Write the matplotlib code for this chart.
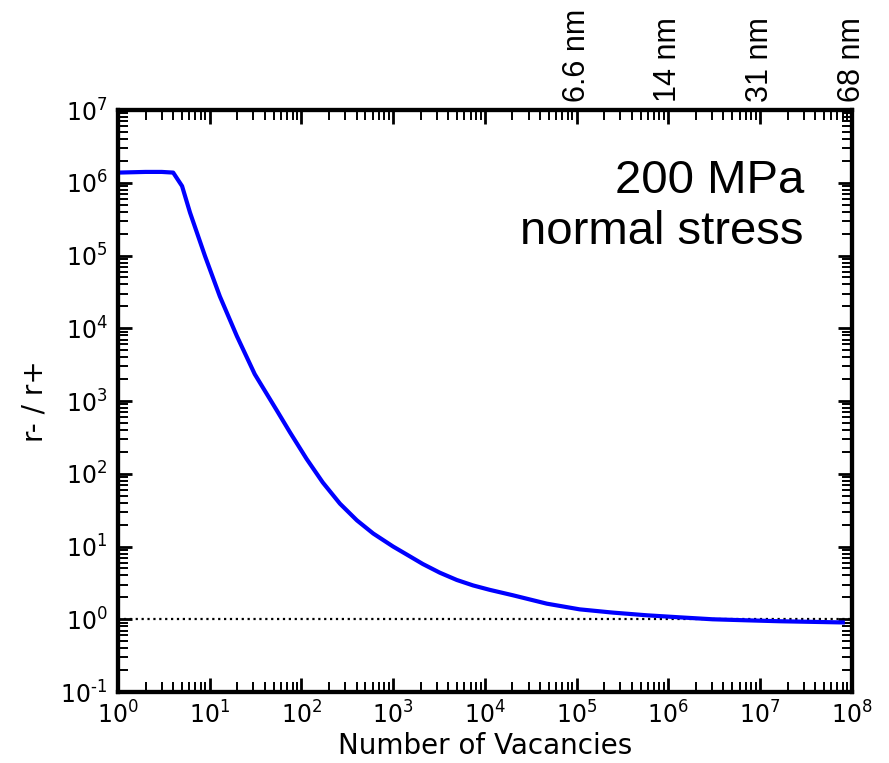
import matplotlib
matplotlib.use("Agg")
import matplotlib.pyplot as plt
from matplotlib.ticker import FixedLocator, FixedFormatter

# Data (number of vacancies vs ratio r-/r+)
vacancies = [1, 2, 3, 4, 5, 6.1, 8.9, 12.9, 19.8, 31, 54, 75, 114, 171, 263,
             403, 607, 1000, 1400, 2110, 3230, 4950, 7450, 11300, 20200,
             47400, 1.08e5, 2.48e5, 5.83e5, 1.33e6, 3.05e6, 7.16e6, 1.64e7,
             8e7]
ratio = [1.38e6, 1.41e6, 1.41e6, 1.38e6, 9.0e5, 3.9e5, 9.8e4, 2.75e4, 7.8e3,
         2.34e3, 741, 372, 160, 76, 38.9, 22.9, 15.1, 10.0, 7.8, 5.75, 4.37,
         3.47, 2.92, 2.54, 2.14, 1.64, 1.37, 1.236, 1.135, 1.064, 1.0, 0.968,
         0.94, 0.905]

reference_level = 1.0

y_tick_positions = [1e-1, 1e0, 1e1, 1e2, 1e3, 1e4, 1e5, 1e6, 1e7]
y_tick_labels = ["$10^{\u20101}$", "$10^{0}$", "$10^{1}$", "$10^{2}$",
                 "$10^{3}$", "$10^{4}$", "$10^{5}$", "$10^{6}$", "$10^{7}$"]

top_tick_positions = [1, 1e1, 1e2, 1e3, 1e4, 1e5, 1e6, 1e7, 1e8]
top_tick_labels = ["", "", "", "", "", "6.6 nm", "14 nm", "31 nm", "68 nm"]

fig = plt.figure(figsize=(8.89, 7.63), dpi=100)
ax = fig.add_axes([0.1327, 0.093, 0.8253, 0.7628])

ax.plot(vacancies, ratio, color="#0000ff", lw=3, zorder=3)
ax.axhline(reference_level, color="black", ls=":", lw=1.6, zorder=2)

ax.set_xscale("log")
ax.set_yscale("log")
ax.set_xlim(1, 1e8)
ax.set_ylim(0.1, 1e7)
ax.yaxis.set_major_locator(FixedLocator(y_tick_positions))
ax.yaxis.set_major_formatter(FixedFormatter(y_tick_labels))

ax.set_xlabel("Number of Vacancies", fontsize=20)
ax.set_ylabel("r- / r+", fontsize=20)
ax.xaxis.set_label_coords(0.5, -0.068)
ax.yaxis.set_label_coords(-0.095, 0.5)

for s in ax.spines.values():
    s.set_linewidth(3)

ax.tick_params(which="both", direction="in", right=True, top=False,
               labelsize=17)
ax.tick_params(which="major", length=10, width=2)
ax.tick_params(which="minor", length=7.5, width=1.4)
ax.tick_params(axis="x", which="major", pad=6.5)
ax.tick_params(axis="y", which="major", pad=7.5)

ax2 = ax.twiny()
ax2.set_xscale("log")
ax2.set_xlim(ax.get_xlim())
ax2.set_xticks(top_tick_positions)
ax2.set_xticklabels(top_tick_labels, rotation=90, fontsize=22,
                    family="Liberation Sans")
ax2.tick_params(which="both", direction="in")
ax2.tick_params(which="major", length=10, width=2, pad=6)
ax2.tick_params(which="minor", length=7.5, width=1.4)
for s in ax2.spines.values():
    s.set_linewidth(3)

ax.text(0.935, 0.915, "200 MPa\nnormal stress", transform=ax.transAxes,
        ha="right", va="top", fontsize=34, family="Liberation Sans",
        linespacing=1.2)

fig.savefig("out.png", dpi=100)
